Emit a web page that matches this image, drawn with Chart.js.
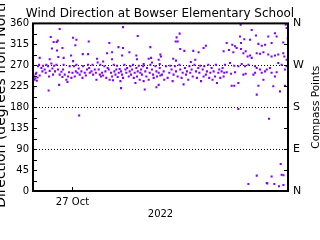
<!DOCTYPE html>
<html><head><meta charset="utf-8">
<script src="https://cdn.jsdelivr.net/npm/chart.js@4"></script>
<style>html,body{margin:0;padding:0;background:#fff}canvas{display:block}</style>
</head><body>
<canvas id="c" width="320" height="240"></canvas>
<script>
"use strict";
// x = hours since 26 Oct 2022 00:00, y = degrees from north
const X_MIN = -1, X_MAX = 167;
const DATE_TICKS = [25];
const DATE_LABELS = ["27 Oct"];
const DEG_TICKS = [0, 45, 90, 135, 180, 225, 270, 315, 360];
const COMPASS_TICKS = [0, 90, 180, 270, 360];
const COMPASS_LABELS = ["N", "E", "S", "W", "N"];
const DOTTED = [90, 180, 270];

const bandPoints = [
  [-0.3,246],[0.1,239],[0.5,242],[0.8,251],[1.2,254],[1.5,237],[2,244],[2.3,268],[3,271],[3.4,248],[4.5,264],[5.2,257],[5.6,269],[6.7,261],[7.4,254],[7.8,271],[8.9,268],[9.6,246],[10,258],[11.1,274],[11.8,263],[12.2,250],[12.9,269],[13.5,257],[14.4,271],[15.5,261],[16.6,250],[17.7,256],[18.4,245],[18.8,261],[19.2,271],[19.9,250],[21,239],[21.7,234],[22.1,246],[22.8,255],[23.2,268],[24.3,243],[25,254],[25.4,279],[26,268],[26.5,246],[27.2,257],[27.6,271],[28.3,254],[29.1,263],[29.8,250],[30.9,257],[31.6,243],[32,268],[33.1,254],[33.8,248],[34.6,261],[35.3,271],[36,264],[36.4,254],[37.5,257],[38.2,271],[38.6,250],[39.7,261],[40.4,254],[40.8,239],
  [42.3,261],[43,250],[43.8,246],[44.5,254],[45.2,248],[46,268],[46.7,257],[47.3,243],[48.2,264],[48.9,261],[49.5,239],[50.4,254],[51.1,246],[51.7,238],[52.2,271],[52.6,257],[53.3,250],[53.9,261],[54.4,269],[54.8,245],[55.5,254],[56.1,262],[56.6,236],[57,257],[57.7,250],[58.3,243],[59.2,271],[59.9,261],[60.5,254],[61,264],[62.1,246],[62.7,257],[63.2,268],[63.6,250],[64.3,261],[64.9,271],[65.4,243],[66,254],[66.5,232],[67.1,264],[67.5,246],[68,257],[68.7,269],[69.3,239],[69.7,254],[70.2,261],[70.8,250],[71.5,268],[71.9,236],[73,257],[73.7,246],[74.1,264],[75.2,239],[75.9,254],[76.3,271],[77.4,261],[78.1,250],[78.5,243],[79.6,268],[80.3,257],[80.7,246],[81.8,254],[82.5,264],[82.9,248],
  [84,250],[85.1,257],[85.5,239],[86.6,268],[87.7,243],[88.8,254],[89.5,269],[90.3,261],[91,236],[91.6,250],[92.5,268],[93.2,257],[94.3,246],[95.4,271],[96,261],[96.9,243],[97.6,254],[98.2,229],[99.1,264],[99.8,250],[100.4,257],[101.3,239],[102,268],[102.6,254],[103.5,261],[104.2,246],[105.3,271],[106.4,257],[107,243],[107.9,264],[108.6,254],[109.2,269],[109.7,236],[110.8,261],[111.4,246],[111.8,268],[112.9,250],[113.6,257],[114.5,271],[115.1,243],[115.8,254],[116.7,264],[117.3,239],[118,257],[118.9,246],[119.5,271],[120.2,232],[121.1,254],[121.7,261],[122.4,243],[123.3,257],[123.9,264],[124.6,246],[125,254],
  [125.5,271],[128.8,275],[131.6,269],[134.3,268],[136.5,273],[138.7,268],[140.9,271],[145.3,268],[146.4,264],[148.6,261],[153,261],[155.1,264],[160.6,275],[162.8,271],[166.1,268],
  [126.6,255],[129.5,252],[132.1,255],[137.6,250],[139.1,252],[144.2,250],[145.3,254],[149.7,254],[151.9,257],[156.2,254],[158.4,246],[159.5,255],[165,261]
];
const highPoints = [
  [16.6,348],[10.7,331],[25.4,329],[27.6,325],[12.6,320],[15.3,323],[14.6,320],[35.7,321],[26.9,313],[11.5,306],[18.4,307],[14.8,302],[35.3,294],[31.8,294],[3.4,286],[10,283],[15.7,288],[24.1,291],[19.2,286],
  [58.3,352],[68,333],[49.3,318],[55.3,309],[58.3,307],[76.3,309],[51.1,298],[62.5,298],[47.8,296],[82.9,293],[57.7,291],[67.1,291],[75.2,284],[76.8,286],[41.2,284],[45.2,278],[51.1,283],[67.5,283],[81.8,282],[77.4,276],[82.5,273],[71.9,273],[43.4,271],[41.6,276],
  [95.6,338],[93.6,330],[93,321],[94.3,321],[96,305],[98.7,301],[104.6,301],[108.1,298],[111.4,307],[112.9,312],[83.3,289],[91.4,284],[93.2,280],[103,277],[105.9,282],[124.6,300],
  [135.8,357],[165.5,357],[166.1,350],[143.1,346],[154,332],[159.5,332],[158.4,339],[135.4,332],[138.2,326],[142,325],[145.9,334],[166.8,328],[126.6,318],[130.3,314],[132.1,311],[136,318],[147.5,316],[149.7,312],[151.9,314],[156.2,318],[163.9,319],[128.1,303],[131,298],[133.2,307],[136,305],[137.6,296],[139.1,300],[140.4,289],[142,291],[143.1,286],[146.4,296],[148.6,295],[150.8,298],[154,293],[156.2,289],[158.4,291],[160.6,293],[163.9,296],[164.6,289],[166.1,282]
];
const lowPoints = [
  [9.3,216],[29.4,162],[-0.8,221],[16.2,228],
  [57,221],[72.6,218],[80.3,223],[81.8,228],
  [129.9,226],[131.6,226],[134.3,232],[147.5,226],[150.8,239],[157.3,225],[161.7,214],[165,226],[146.4,207],[134.3,176],
  [154.5,155],[162.2,58],[162.8,35],[164,34],[146.4,33],[156.2,31],[153,17],[153.4,16],[158,15],[140.9,15],[161.1,10],[164,13]
];

const pts = bandPoints.concat(highPoints, lowPoints).map(p => ({ x: p[0], y: p[1] }));

Chart.defaults.font.family = '"DejaVu Sans", sans-serif';
Chart.defaults.color = "#000";

const frame = {
  id: "frame",
  beforeDatasetsDraw(chart) {
    const { ctx, chartArea: a, scales: { y } } = chart;
    ctx.save();
    ctx.strokeStyle = "#000"; ctx.lineWidth = 1; ctx.setLineDash([1, 2]);
    DOTTED.forEach(v => {
      const py = Math.round(y.getPixelForValue(v)) + 0.5;
      ctx.beginPath(); ctx.moveTo(a.left, py); ctx.lineTo(a.right, py); ctx.stroke();
    });
    ctx.restore();
  },
  afterDatasetsDraw(chart) {
    const { ctx, chartArea: a, scales: { x, y, y2 } } = chart;
    ctx.save();
    ctx.strokeStyle = "#000"; ctx.lineWidth = 1;
    ctx.beginPath();
    for (let v = 0; v <= 360; v += 22.5) { const py = Math.round(y.getPixelForValue(v)) + 0.5; ctx.moveTo(a.left, py); ctx.lineTo(a.left + 4, py); }
    for (let v = 0; v <= 360; v += 45) { const py = Math.round(y2.getPixelForValue(v)) + 0.5; ctx.moveTo(a.right - 4, py); ctx.lineTo(a.right, py); }
    DATE_TICKS.forEach(v => { const px = Math.round(x.getPixelForValue(v)) + 0.5; ctx.moveTo(px, a.bottom); ctx.lineTo(px, a.bottom - 4); });
    ctx.stroke();
    ctx.lineWidth = 2;
    ctx.strokeRect(a.left, a.top, a.right - a.left, a.bottom - a.top);
    // both axis titles read bottom-to-top; the left one runs off the canvas like the original
    ctx.fillStyle = "#000"; ctx.textAlign = "center";
    ctx.save();
    ctx.translate(4.5, 100); ctx.rotate(-Math.PI / 2);
    ctx.font = '14px "DejaVu Sans"'; ctx.textBaseline = "alphabetic";
    ctx.fillText("Direction (degrees from North)", 0, 0);
    ctx.restore();
    ctx.translate(316, (a.top + a.bottom) / 2); ctx.rotate(-Math.PI / 2);
    ctx.font = '10.5px "DejaVu Sans"'; ctx.textBaseline = "middle";
    ctx.fillText("Compass Points", 0, 0);
    ctx.restore();
  }
};

new Chart(document.getElementById("c"), {
  type: "scatter",
  data: { datasets: [{ data: pts, backgroundColor: "#8000ff", borderWidth: 0, pointStyle: "rect", pointRadius: 1.45, pointHoverRadius: 1.45 }] },
  options: {
    responsive: false, animation: false, devicePixelRatio: 1,
    layout: { padding: 0 },
    plugins: {
      legend: { display: false }, tooltip: { enabled: false },
      title: { display: true, text: "Wind Direction at Bowser Elementary School", font: { size: 12, weight: "normal" }, padding: { top: 7, bottom: 2 } }
    },
    scales: {
      x: {
        type: "linear", min: X_MIN, max: X_MAX,
        afterFit: s => { s.height = 49; },
        afterBuildTicks: s => { s.ticks = DATE_TICKS.map(v => ({ value: v })); },
        ticks: { callback: (v, i) => DATE_LABELS[i], font: { size: 10 }, padding: 5, maxRotation: 0 },
        grid: { display: false, drawTicks: false }, border: { display: false },
        title: { display: true, text: "2022", font: { size: 10 }, padding: { top: 0, bottom: 20 } }
      },
      y: {
        position: "left", min: 0, max: 360,
        afterFit: s => { s.width = 33; },
        afterBuildTicks: s => { s.ticks = DEG_TICKS.map(v => ({ value: v })); },
        ticks: { font: { size: 10 }, padding: 4, autoSkip: false },
        grid: { display: false, drawTicks: false }, border: { display: false }
      },
      y2: {
        position: "right", min: 0, max: 360,
        afterFit: s => { s.width = 32; },
        afterBuildTicks: s => { s.ticks = COMPASS_TICKS.map(v => ({ value: v })); },
        ticks: { callback: (v, i) => COMPASS_LABELS[i], font: { size: 11 }, padding: 5, autoSkip: false },
        grid: { display: false, drawTicks: false }, border: { display: false }
      }
    }
  },
  plugins: [frame]
});
</script>
</body></html>
